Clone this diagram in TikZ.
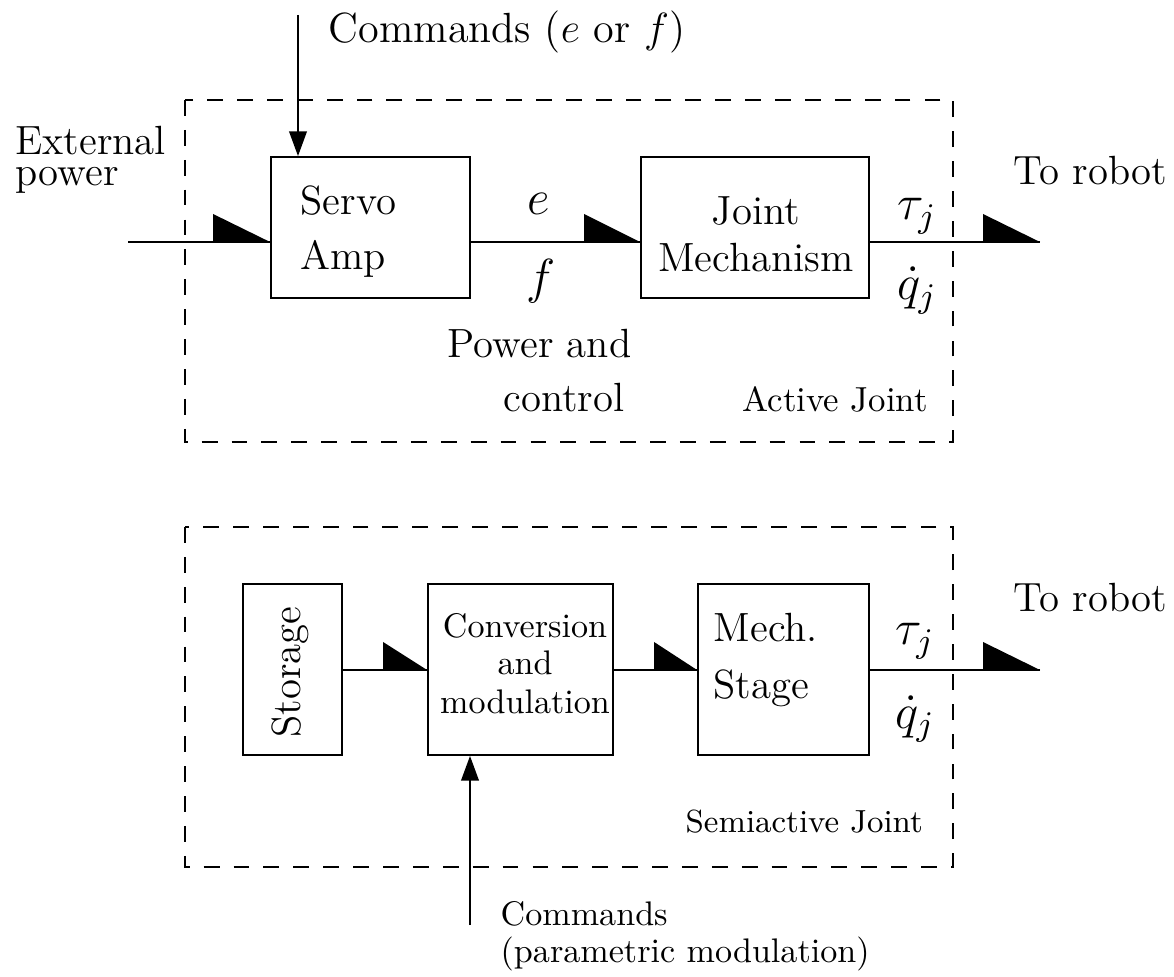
\RequirePackage{fix-cm}
\documentclass[tikz,border=0pt]{standalone}
\usetikzlibrary{arrows.meta,calc}
\tikzset{
  blk/.style={draw, line width=0.5pt, inner sep=0pt},
  frame/.style={draw, dash pattern=on 4.5pt off 4pt, line width=0.5pt},
  conn/.style={line width=0.5pt},
  cmdarrow/.style={line width=0.5pt, -{Triangle[length=7pt,width=5pt]}},
  txt/.style={inner sep=0pt},
  big/.style={font=\fontsize{11.6}{14}\selectfont},
  sym/.style={font=\fontsize{14}{17}\selectfont},
  small/.style={font=\fontsize{9.7}{12}\selectfont},
}
\newcommand{\halfarrow}[3]{\fill (#1) -- ++(-#2,0) -- ++(0,-#3) -- cycle;}
\begin{document}
\begin{tikzpicture}[x=0.01cm,y=-0.01cm]
\useasboundingbox (0,0) rectangle (1174,977);

% ---------------- Active joint ----------------
\draw[frame] (185,100) rectangle (953,442);
\node[blk, minimum width=1.99cm, minimum height=1.41cm] (sa) at (370.5,227.5) {};
\node[blk, minimum width=2.28cm, minimum height=1.41cm] (jm) at (755,227.5) {};

\node[txt, big, anchor=base west] (servo) at (300,215) {Servo};
\node[txt, big, anchor=base west] (amp) at (300,270) {Amp};
\node[txt, big, anchor=base] (joint) at (756,225) {Joint};
\node[txt, big, anchor=base] (mech) at (756,272) {Mechanism};

\node[txt, font=\fontsize{12}{14}\selectfont, anchor=base west] (cmdtxt) at (328,43) {Commands ($e$ or $f$)};
\node[txt, big, anchor=base west] (ext1) at (15,155) {External};
\node[txt, big, anchor=base west] (ext2) at (15,186) {power};

\coordinate (ct) at (298,15);
\draw[cmdarrow] (ct) -- (ct |- sa.north);

\coordinate (ein) at (128,242);
\draw[conn] (ein) -- (ein -| sa.west);
\halfarrow{ein -| sa.west}{57}{28}

\draw[conn] (sa.east |- ein) -- (jm.west |- ein);
\halfarrow{jm.west |- ein}{56}{28}
\node[txt, sym, anchor=base] (elab) at (539,215) {$e$};
\node[txt, sym, anchor=base] (flab) at (541,294) {$f$};

\coordinate (rob1) at (1040,242);
\draw[conn] (jm.east |- ein) -- (rob1);
\halfarrow{rob1}{57}{28}
\node[txt, sym, anchor=base] (tau1) at (917,220) {$\tau_j$};
\node[txt, sym, anchor=base] (qd1) at (917,300) {$\dot q_j$};
\node[txt, big, anchor=base west] (robot1) at (1013,185) {To robot};

\node[txt, big, anchor=base east] (pw1) at (632,358) {Power and};
\node[txt, big, anchor=base east] (pw2) at (625,412) {control};
\node[txt, font=\fontsize{9.9}{12}\selectfont, anchor=base west] (aj) at (742,412) {Active Joint};

% ---------------- Semiactive joint ----------------
\draw[frame] (185,527) rectangle (953,867);
\node[blk, minimum width=0.99cm, minimum height=1.71cm] (st) at (292.5,669.5) {};
\node[blk, minimum width=1.85cm, minimum height=1.71cm] (cm) at (520.5,669.5) {};
\node[blk, minimum width=1.71cm, minimum height=1.71cm] (ms) at (783.5,669.5) {};

\node[txt, big, rotate=90, anchor=base] (stor) at (300,672) {Storage};
\node[txt, small, anchor=base] (conv1) at (525,638) {Conversion};
\node[txt, small, anchor=base] (conv2) at (525,675) {and};
\node[txt, small, anchor=base] (conv3) at (525,713) {modulation};
\node[txt, big, anchor=base west] (mech1) at (713,642) {Mech.};
\node[txt, big, anchor=base west] (mech2) at (713,698) {Stage};

\coordinate (yb) at (0,670);
\draw[conn] (st.east |- yb) -- (cm.west |- yb);
\halfarrow{cm.west |- yb}{44}{28}
\draw[conn] (cm.east |- yb) -- (ms.west |- yb);
\halfarrow{ms.west |- yb}{43}{28}

\coordinate (rob2) at (1040,670);
\draw[conn] (ms.east |- yb) -- (rob2);
\halfarrow{rob2}{57}{28}
\node[txt, sym, anchor=base] (tau2) at (915,645) {$\tau_j$};
\node[txt, sym, anchor=base] (qd2) at (915,728) {$\dot q_j$};
\node[txt, big, anchor=base west] (robot2) at (1013,612) {To robot};

\node[txt, font=\fontsize{9.1}{11}\selectfont, anchor=base west] (sj) at (685,832) {Semiactive Joint};

\coordinate (cb) at (470,925);
\draw[cmdarrow] (cb) -- (cb |- cm.south);
\node[txt, small, anchor=base west] (cmd2a) at (500,925) {Commands};
\node[txt, small, anchor=base west] (cmd2b) at (500,962) {(parametric modulation)};
\end{tikzpicture}
\end{document}
